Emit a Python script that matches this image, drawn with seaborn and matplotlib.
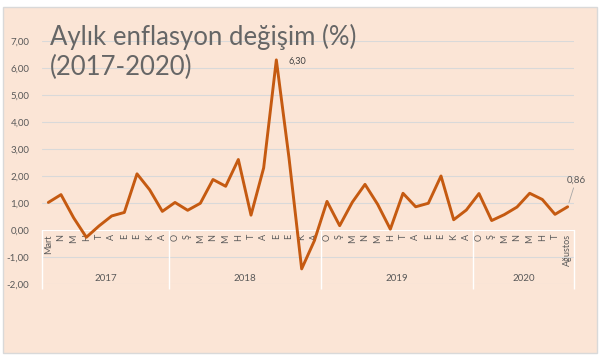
import numpy as np
import pandas as pd
import seaborn as sns
import matplotlib.pyplot as plt
from matplotlib.patches import Rectangle

# Monthly CPI change (%), Mart 2017 - Ağustos 2020
months = ['Mart', 'N', 'M', 'H', 'T', 'A', 'E', 'E', 'K', 'A',
          'O', 'Ş', 'M', 'N', 'M', 'H', 'T', 'A', 'E', 'E', 'K', 'A',
          'O', 'Ş', 'M', 'N', 'M', 'H', 'T', 'A', 'E', 'E', 'K', 'A',
          'O', 'Ş', 'M', 'N', 'M', 'H', 'T', 'Ağustos']
values = [1.02, 1.31, 0.45, -0.27, 0.15, 0.52, 0.65, 2.08, 1.49, 0.69,
          1.02, 0.73, 0.99, 1.87, 1.62, 2.61, 0.55, 2.30, 6.30, 2.67, -1.44, -0.40,
          1.06, 0.16, 1.03, 1.69, 0.95, 0.03, 1.36, 0.86, 0.99, 2.00, 0.38, 0.74,
          1.35, 0.35, 0.57, 0.85, 1.36, 1.13, 0.58, 0.86]
years = ['2017', '2018', '2019', '2020']
year_counts = [10, 12, 12, 8]

df = pd.DataFrame({'idx': np.arange(len(values)), 'value': values})

sns.set_style('white')
plt.rcParams['font.family'] = ['Lato', 'DejaVu Sans']

W, H = 602, 358
fig = plt.figure(figsize=(W / 100, H / 100), dpi=100)
fig.patch.set_facecolor('white')
peach = '#FBE5D6'
grey_txt = '#595959'

# chart area box on a background axes
bg = fig.add_axes([0, 0, 1, 1], zorder=-1)
bg.set_xlim(0, W)
bg.set_ylim(H, 0)
bg.axis('off')
bg.add_patch(Rectangle((3, 7), 594, 346, facecolor=peach, edgecolor='#D9D9D9', linewidth=1))

ax = fig.add_axes([42 / W, 74 / H, 532 / W, 243 / H])
ax.set_facecolor('none')

for y in range(-2, 8):
    ax.axhline(y, color='#D9D9D9', linewidth=0.8, zorder=1)

sns.lineplot(data=df, x='idx', y='value', color='#C55A11', linewidth=2.1, ax=ax, zorder=3)

ax.set_xlim(-0.5, len(values) - 0.5)
ax.set_ylim(-2, 7)
ax.set_yticks(range(-2, 8))
ax.set_yticklabels([f'{v:.2f}'.replace('.', ',') for v in range(-2, 8)], fontsize=7, color=grey_txt)
ax.tick_params(axis='y', length=0, pad=9)

# month labels along the zero line
ax.spines['bottom'].set_position(('data', 0))
ax.spines['bottom'].set_color('white')
ax.set_xticks(df['idx'])
ax.set_xticklabels(months, rotation=90, fontsize=6.5, color=grey_txt)
ax.tick_params(axis='x', length=0, pad=3)
for s in ['top', 'right', 'left']:
    ax.spines[s].set_visible(False)
ax.set_xlabel('')
ax.set_ylabel('')

# year separators and labels
bounds = np.concatenate([[0], np.cumsum(year_counts)]) - 0.5
ax.vlines(bounds, -2.2, 0, color='white', linewidth=1, zorder=2, clip_on=False)
for i, yr in enumerate(years):
    ax.text((bounds[i] + bounds[i + 1]) / 2, -1.95, yr, ha='center', va='bottom',
            fontsize=7, color=grey_txt)

# data labels
ax.annotate('6,30', xy=(18, 6.30), xytext=(9, -1), textcoords='offset points',
            fontsize=6.5, color='#404040', va='center', ha='left')
ax.annotate('0,86', xy=(41, 0.86), xytext=(6, 16), textcoords='offset points',
            fontsize=7, color=grey_txt, ha='center', va='bottom',
            arrowprops=dict(arrowstyle='-', color='#A6A6A6', lw=0.6, shrinkA=0, shrinkB=3))

fig.text(50 / W, 1 - 24 / H, 'Aylık enflasyon değişim (%)', fontsize=18.5,
         color='#666666', ha='left', va='top')
fig.text(50 / W, 1 - 55 / H, '(2017-2020)', fontsize=18.5,
         color='#666666', ha='left', va='top')

fig.savefig('out.png', dpi=100, facecolor='white')
